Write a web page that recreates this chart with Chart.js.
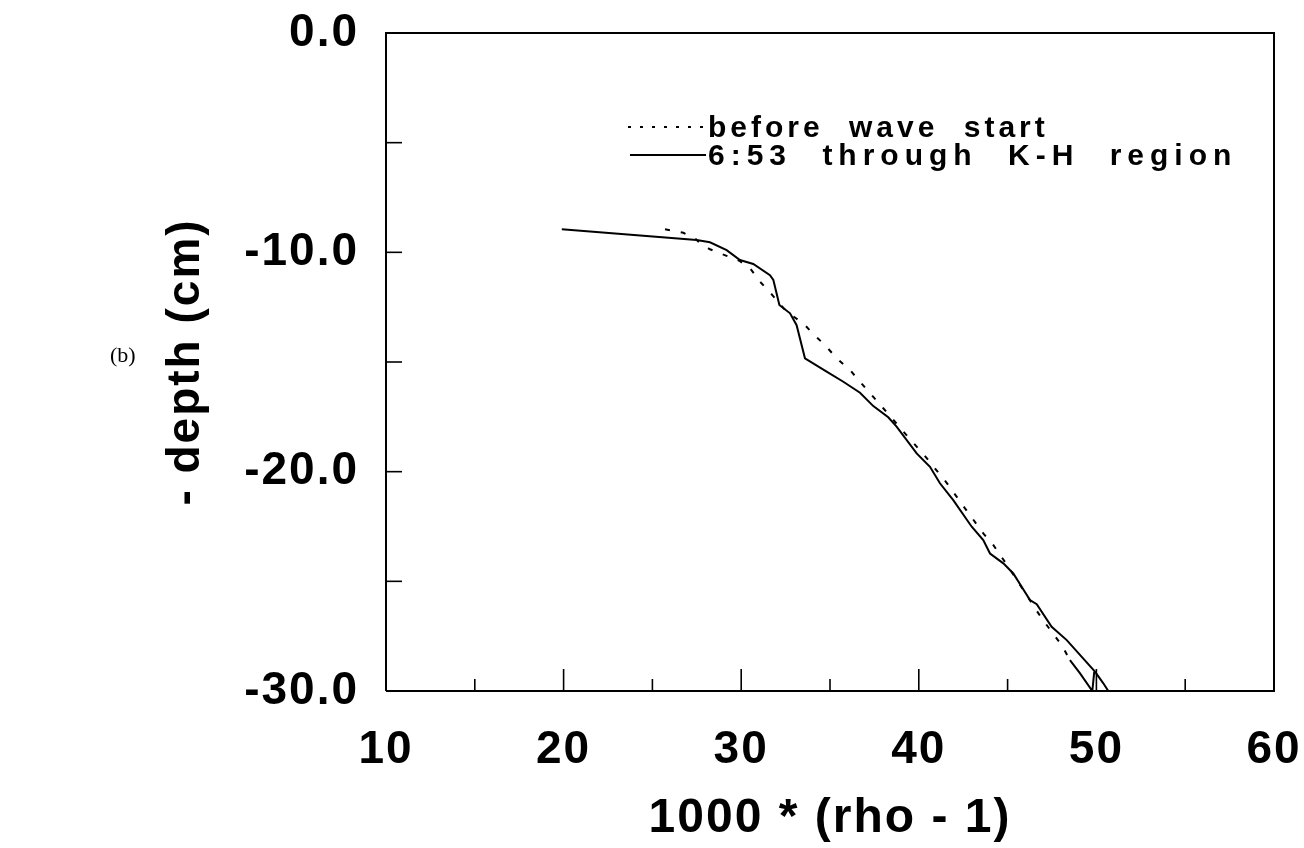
<!DOCTYPE html>
<html>
<head>
<meta charset="utf-8">
<script src="https://cdn.jsdelivr.net/npm/chart.js@4.4.1/dist/chart.umd.min.js"></script>
<style>
  html, body { margin: 0; padding: 0; background: #fff; }
  #wrap { position: relative; width: 1304px; height: 848px; }
  #c { position: absolute; left: 0; top: 0; }
  .leg { position: absolute; font-family: 'Liberation Sans', Arial, sans-serif; font-weight: bold;
         font-size: 30px; color: #000; white-space: nowrap; line-height: 30px; }
  .sample { position: absolute; }
  #panel { position: absolute; left: 110px; top: 342px; font-family: 'Liberation Serif', 'DejaVu Serif', serif; font-size: 22px; color: #000; }
</style>
</head>
<body>
<div id="wrap">
  <canvas id="c" width="1304" height="848"></canvas>
  <div id="panel">(b)</div>
  <svg class="sample" style="left:626px;top:112px" width="84" height="60">
    <line x1="2" y1="15" x2="80" y2="15" stroke="#000" stroke-width="2" stroke-dasharray="3 9"></line>
    <line x1="4" y1="43" x2="80" y2="43" stroke="#000" stroke-width="2"></line>
  </svg>
  <div class="leg" id="leg1" style="left:708px;top:112px;letter-spacing:4px;word-spacing:13px">before wave start</div>
  <div class="leg" id="leg2" style="left:708px;top:140px;letter-spacing:6px;word-spacing:16px">6:53 through K-H region</div>
</div>
<script>
// ---- data ----
const seriesNames = ['before wave start', '6:53 through K-H region'];

const beforeX = [25.71, 26.74, 27.40, 27.68, 28.24, 29.18, 29.93, 30.50, 31.06, 31.72, 32.56, 33.50,
                 34.06, 34.72, 35.38, 36.13, 36.69, 38.00, 39.22, 40.35, 41.57, 42.60, 43.63, 44.20,
                 45.04, 46.92, 48.05, 48.51, 49.08, 49.77, 49.88];
const beforeY = [-8.95, -9.11, -9.36, -9.59, -9.86, -10.16, -10.40, -10.73, -11.34, -11.92, -12.71, -13.24,
                 -13.73, -14.23, -14.83, -15.37, -15.90, -17.11, -18.25, -19.29, -20.51, -21.67, -22.81, -23.35,
                 -24.34, -26.69, -27.91, -28.59, -29.20, -30.00, -29.12];

const afterX = [19.90, 27.49, 28.24, 29.18, 29.93, 30.68, 31.62, 31.81, 32.15, 32.75, 33.12, 33.59,
                34.81, 35.75, 36.69, 37.44, 38.28, 38.75, 39.88, 40.63, 41.19, 41.94, 42.98, 43.63,
                44.01, 44.76, 45.32, 46.26, 46.64, 47.48, 48.33, 49.92, 50.39, 50.67];
const afterY = [-8.95, -9.44, -9.54, -9.90, -10.35, -10.53, -11.04, -11.26, -12.40, -12.78, -13.32, -14.83,
                -15.44, -15.90, -16.40, -17.01, -17.52, -17.95, -19.17, -19.78, -20.53, -21.30, -22.51, -23.12,
                -23.73, -24.18, -24.64, -25.85, -26.04, -27.07, -27.68, -29.12, -29.65, -30.00];

const xTickValues = [10, 15, 20, 25, 30, 35, 40, 45, 50, 55, 60];
const xTickLabels = ['10', '', '20', '', '30', '', '40', '', '50', '', '60'];
const yTickValues = [0, -5, -10, -15, -20, -25, -30];
const yTickLabels = ['0.0', '', '-10.0', '', '-20.0', '', '-30.0'];
const xTitle = '1000 * (rho - 1)';
const yTitle = '- depth (cm)';
const beforeSolidFrom = 27; // last part of the dotted trace is drawn solid in the original

// ---- build ----
const toPts = (xs, ys) => xs.map((x, i) => ({ x: x, y: ys[i] }));
const FONT = "'Liberation Sans', Arial, Helvetica, sans-serif";

const spacing = {
  id: 'spacing',
  beforeUpdate(chart) { chart.ctx.letterSpacing = '2px'; },
  beforeDraw(chart) { chart.ctx.letterSpacing = '2px'; }
};

const frame = {
  id: 'frame',
  afterDatasetsDraw(chart) {
    const { ctx, chartArea: a, scales } = chart;
    ctx.save();
    ctx.strokeStyle = '#000';
    ctx.lineWidth = 2;
    ctx.beginPath();
    ctx.moveTo(a.left, a.bottom);
    ctx.lineTo(a.left, a.top);
    ctx.lineTo(a.right, a.top);
    ctx.lineTo(a.right, a.bottom);
    ctx.lineTo(a.left, a.bottom);
    ctx.stroke();
    ctx.lineWidth = 1.6;
    xTickValues.forEach((v, i) => {
      if (i === 0 || i === xTickValues.length - 1) return;
      const px = scales.x.getPixelForValue(v);
      const len = xTickLabels[i] ? 22 : 12;
      ctx.beginPath();
      ctx.moveTo(px, a.bottom);
      ctx.lineTo(px, a.bottom - len);
      ctx.stroke();
    });
    yTickValues.forEach((v, i) => {
      if (i === 0 || i === yTickValues.length - 1) return;
      const py = scales.y.getPixelForValue(v);
      ctx.beginPath();
      ctx.moveTo(a.left, py);
      ctx.lineTo(a.left + 16, py);
      ctx.stroke();
    });
    ctx.restore();
  }
};

new Chart(document.getElementById('c'), {
  type: 'scatter',
  data: {
    datasets: [
      {
        label: seriesNames[0],
        data: toPts(beforeX, beforeY),
        showLine: true,
        borderColor: '#000',
        borderWidth: 2,
        borderDash: [5, 11],
        pointRadius: 0,
        tension: 0,
        segment: {
          borderDash: c => (c.p0DataIndex >= beforeSolidFrom ? [] : [5, 11])
        }
      },
      {
        label: seriesNames[1],
        data: toPts(afterX, afterY),
        showLine: true,
        borderColor: '#000',
        borderWidth: 2,
        pointRadius: 0,
        tension: 0
      }
    ]
  },
  options: {
    responsive: false,
    animation: false,
    devicePixelRatio: 1,
    layout: { padding: { top: 33, right: 30, left: 0, bottom: 0 } },
    plugins: { legend: { display: false }, tooltip: { enabled: false } },
    scales: {
      x: {
        type: 'linear',
        min: 10, max: 60,
        afterBuildTicks: s => { s.ticks = xTickValues.map(v => ({ value: v })); },
        afterFit: s => { s.height = 157; s.paddingLeft = 0; s.paddingRight = 0; },
        grid: { display: false, drawTicks: false },
        border: { display: false },
        ticks: {
          autoSkip: false, maxRotation: 0, padding: 32, color: '#000',
          font: { family: FONT, size: 46, weight: 'bold' },
          callback: (v) => { const i = xTickValues.indexOf(v); return i >= 0 ? xTickLabels[i] : ''; }
        },
        title: {
          display: true, text: xTitle, color: '#000',
          font: { family: FONT, size: 48, weight: 'bold' },
          padding: { top: 0, bottom: 0 }
        }
      },
      y: {
        type: 'linear',
        min: -30, max: 0,
        afterBuildTicks: s => { s.ticks = yTickValues.map(v => ({ value: v })); },
        afterFit: s => { s.width = 386; s.paddingTop = 0; s.paddingBottom = 0; },
        grid: { display: false, drawTicks: false },
        border: { display: false },
        ticks: {
          autoSkip: false, padding: 27, color: '#000',
          font: { family: FONT, size: 46, weight: 'bold' },
          callback: (v) => { const i = yTickValues.indexOf(v); return i >= 0 ? yTickLabels[i] : ''; }
        },
        title: {
          display: true, text: yTitle, color: '#000',
          font: { family: FONT, size: 46, weight: 'bold' },
          padding: { top: 159, bottom: 0 }
        }
      }
    }
  },
  plugins: [spacing, frame]
});
</script>
</body>
</html>
